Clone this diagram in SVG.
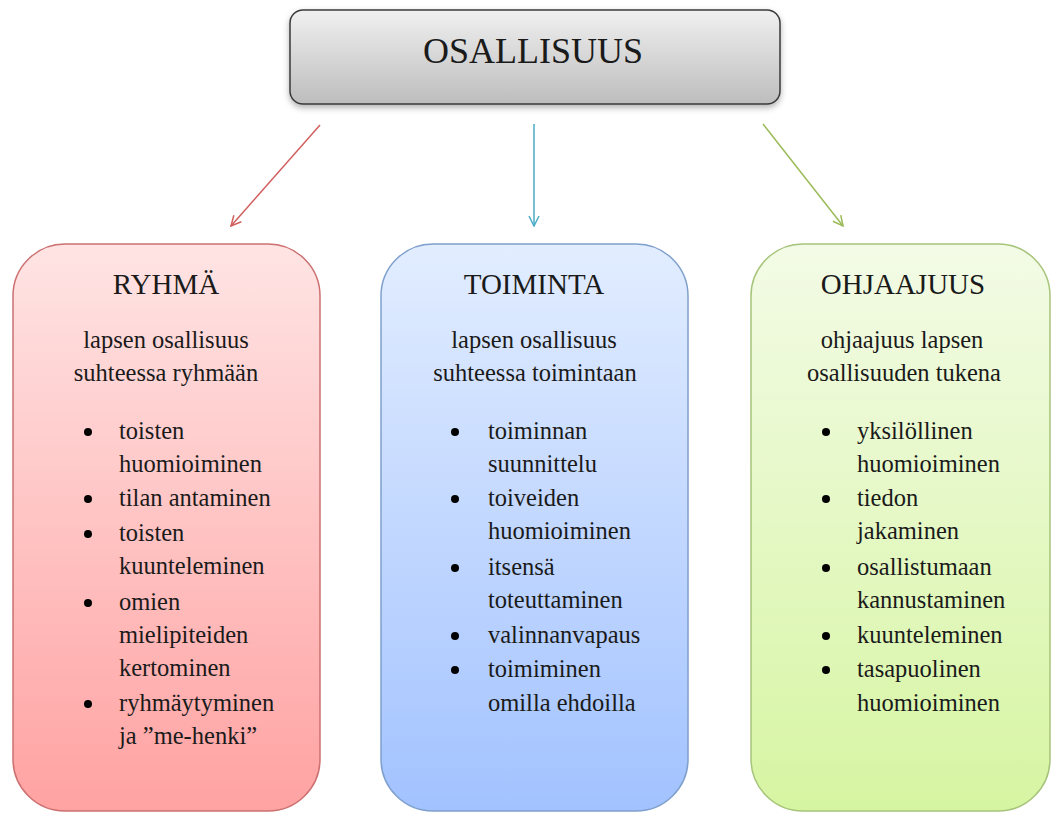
<svg xmlns="http://www.w3.org/2000/svg" width="1052" height="814" viewBox="0 0 1052 814">
<defs>
<linearGradient id="gTop" x1="0" y1="0" x2="0" y2="1"><stop offset="0" stop-color="#F0F0F0"/><stop offset="1" stop-color="#BDBDBD"/></linearGradient>
<linearGradient id="gRed" x1="0" y1="0" x2="0" y2="1"><stop offset="0" stop-color="#FFE4E4"/><stop offset="1" stop-color="#FFA2A2"/></linearGradient>
<linearGradient id="gBlue" x1="0" y1="0" x2="0" y2="1"><stop offset="0" stop-color="#E2EDFF"/><stop offset="1" stop-color="#A2C2FF"/></linearGradient>
<linearGradient id="gGreen" x1="0" y1="0" x2="0" y2="1"><stop offset="0" stop-color="#F3FBE6"/><stop offset="1" stop-color="#D6F5A2"/></linearGradient>
<filter id="sh" x="-10%" y="-10%" width="120%" height="130%"><feDropShadow dx="0" dy="3" stdDeviation="3" flood-color="#000" flood-opacity="0.3"/></filter>
<marker id="aR" viewBox="0 0 12 12" refX="11" refY="6" markerWidth="12" markerHeight="12" markerUnits="userSpaceOnUse" orient="auto"><path d="M1,1 L11,6 L1,11" fill="none" stroke="#D0605E" stroke-width="1.5"/></marker>
<marker id="aB" viewBox="0 0 12 12" refX="11" refY="6" markerWidth="12" markerHeight="12" markerUnits="userSpaceOnUse" orient="auto"><path d="M1,1 L11,6 L1,11" fill="none" stroke="#4BACC6" stroke-width="1.5"/></marker>
<marker id="aG" viewBox="0 0 12 12" refX="11" refY="6" markerWidth="12" markerHeight="12" markerUnits="userSpaceOnUse" orient="auto"><path d="M1,1 L11,6 L1,11" fill="none" stroke="#9BBB59" stroke-width="1.5"/></marker>
</defs>
<style>
text{font-family:"Liberation Serif","Times New Roman",serif;fill:#1a1a1a;}
.main{font-size:36px;text-anchor:middle;}
.title{font-size:29px;text-anchor:middle;}
.sub{font-size:24.5px;text-anchor:middle;}
.item{font-size:24.5px;}
.bul{fill:#000;}
</style>
<rect width="1052" height="814" fill="#fff"/>
<g id="osallisuus">
<rect x="290" y="10" width="490" height="94" rx="13" fill="url(#gTop)" stroke="#3a3a3a" stroke-width="1.5" filter="url(#sh)"/>
<text class="main" x="533" y="63">OSALLISUUS</text>
</g>
<g id="connectors" fill="none" stroke-width="1.5">
<line x1="320" y1="125" x2="231" y2="226" stroke="#D0605E" marker-end="url(#aR)"/>
<line x1="534" y1="124" x2="534" y2="226" stroke="#4BACC6" marker-end="url(#aB)"/>
<line x1="763" y1="124" x2="843" y2="226" stroke="#9BBB59" marker-end="url(#aG)"/>
</g>
<g id="ryhma">
<rect x="13" y="244" width="307" height="567" rx="52" fill="url(#gRed)" stroke="#CC7070" stroke-width="1.5"/>
<text class="title" x="166" y="294">RYHMÄ</text>
<text class="sub" x="166" y="348">lapsen osallisuus</text>
<text class="sub" x="166" y="381">suhteessa ryhmään</text>
<g class="bul"><circle cx="88" cy="432" r="4"/><circle cx="88" cy="499" r="4"/><circle cx="88" cy="534" r="4"/><circle cx="88" cy="603" r="4"/><circle cx="88" cy="704" r="4"/></g>
<text class="item" x="119" y="439">toisten</text>
<text class="item" x="119" y="472">huomioiminen</text>
<text class="item" x="119" y="506">tilan antaminen</text>
<text class="item" x="119" y="541">toisten</text>
<text class="item" x="119" y="574">kuunteleminen</text>
<text class="item" x="119" y="610">omien</text>
<text class="item" x="119" y="643">mielipiteiden</text>
<text class="item" x="119" y="676">kertominen</text>
<text class="item" x="119" y="711">ryhmäytyminen</text>
<text class="item" x="119" y="744">ja ”me-henki”</text>
</g>
<g id="toiminta">
<rect x="381" y="244" width="307" height="567" rx="52" fill="url(#gBlue)" stroke="#7FA0CC" stroke-width="1.5"/>
<text class="title" x="534" y="294">TOIMINTA</text>
<text class="sub" x="534" y="348">lapsen osallisuus</text>
<text class="sub" x="535" y="381">suhteessa toimintaan</text>
<g class="bul"><circle cx="455" cy="432" r="4"/><circle cx="455" cy="499" r="4"/><circle cx="455" cy="568" r="4"/><circle cx="455" cy="636" r="4"/><circle cx="455" cy="670" r="4"/></g>
<text class="item" x="488" y="439">toiminnan</text>
<text class="item" x="488" y="472">suunnittelu</text>
<text class="item" x="488" y="506">toiveiden</text>
<text class="item" x="488" y="539">huomioiminen</text>
<text class="item" x="488" y="575">itsensä</text>
<text class="item" x="488" y="608">toteuttaminen</text>
<text class="item" x="488" y="643">valinnanvapaus</text>
<text class="item" x="488" y="677">toimiminen</text>
<text class="item" x="488" y="711">omilla ehdoilla</text>
</g>
<g id="ohjaajuus">
<rect x="751" y="244" width="299" height="567" rx="52" fill="url(#gGreen)" stroke="#A6C47A" stroke-width="1.5"/>
<text class="title" x="903" y="294">OHJAAJUUS</text>
<text class="sub" x="902" y="348">ohjaajuus lapsen</text>
<text class="sub" x="904" y="381">osallisuuden tukena</text>
<g class="bul"><circle cx="826" cy="432" r="4"/><circle cx="826" cy="499" r="4"/><circle cx="826" cy="568" r="4"/><circle cx="826" cy="636" r="4"/><circle cx="826" cy="670" r="4"/></g>
<text class="item" x="857" y="439">yksilöllinen</text>
<text class="item" x="857" y="472">huomioiminen</text>
<text class="item" x="857" y="506">tiedon</text>
<text class="item" x="857" y="539">jakaminen</text>
<text class="item" x="857" y="575">osallistumaan</text>
<text class="item" x="857" y="608">kannustaminen</text>
<text class="item" x="857" y="643">kuunteleminen</text>
<text class="item" x="857" y="677">tasapuolinen</text>
<text class="item" x="857" y="711">huomioiminen</text>
</g>
</svg>
